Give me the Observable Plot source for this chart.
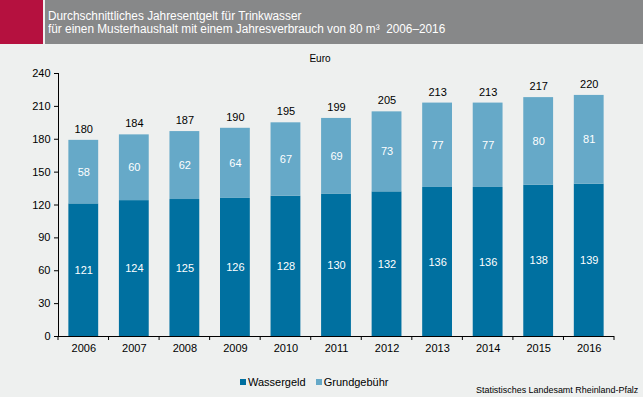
<!DOCTYPE html>
<html><head><meta charset="utf-8">
<script src="https://cdn.jsdelivr.net/npm/d3@7"></script>
<script src="https://cdn.jsdelivr.net/npm/@observablehq/plot@0.6"></script>
<style>
html,body{margin:0;padding:0;background:#eef0ef;}
#wrap{position:relative;width:643px;height:397px;overflow:hidden;background:#eef0ef;font-family:"Liberation Sans",Arial,sans-serif;}
#red{position:absolute;left:0;top:0;width:43px;height:44px;background:#b5113f;}
#gray{position:absolute;left:45px;top:0;width:598px;height:44px;background:#878889;}
#title{position:absolute;left:48px;top:10px;color:#fff;font-family:"Liberation Sans Narrow","Liberation Sans",sans-serif;font-size:12.5px;line-height:13px;white-space:nowrap;transform:scaleX(0.945);transform-origin:0 0;}
#chart{position:absolute;left:0;top:44px;}
#unit{position:absolute;left:300px;top:53px;width:40px;text-align:center;font-size:10px;color:#000;}
#legend{position:absolute;left:240px;top:376px;font-size:11px;color:#000;display:flex;gap:10px;}
#legend span.sw{display:inline-block;width:6px;height:6px;margin-right:2px;vertical-align:1px;}
#source{position:absolute;left:476px;top:384px;font-size:9.5px;color:#000;white-space:nowrap;transform:scaleX(0.94);transform-origin:0 0;}
</style></head>
<body>
<div id="wrap">
<div id="red"></div><div id="gray"></div>
<div id="title">Durchschnittliches Jahresentgelt für Trinkwasser<br>für einen Musterhaushalt mit einem Jahresverbrauch von 80 m³&nbsp; 2006–2016</div>
<div id="chart"></div>
<div id="unit">Euro</div>
<div id="legend"></div>
<div id="source">Statistisches Landesamt Rheinland-Pfalz</div>
</div>
<script>
const years = ["2006","2007","2008","2009","2010","2011","2012","2013","2014","2015","2016"];
const wassergeld = [121,124,125,126,128,130,132,136,136,138,139];
const grundgebuehr = [58,60,62,64,67,69,73,77,77,80,81];
const totals = [180,184,187,190,195,199,205,213,213,217,220];
const series = ["Wassergeld","Grundgebühr"];
const colors = ["#0070a0","#66a9c8"];
const yTicks = [0,30,60,90,120,150,180,210,240];

const rows = [];
years.forEach((y,i)=>{
  rows.push({year:y, type:series[0], value:wassergeld[i]});
  rows.push({year:y, type:series[1], value:grundgebuehr[i]});
});
const tot = years.map((y,i)=>({year:y, value:wassergeld[i]+grundgebuehr[i], label:totals[i]}));

const chart = Plot.plot({
  width:643, height:353,
  marginLeft:58, marginRight:29, marginTop:29, marginBottom:61,
  style:{background:"transparent", fontFamily:"'Liberation Sans', Arial, sans-serif", fontSize:"11px", color:"#000"},
  x:{domain:years, paddingInner:0.41, paddingOuter:0.205, round:false, label:null},
  y:{domain:[0,240], ticks:yTicks, label:null},
  color:{domain:series, range:colors},
  marks:[
    Plot.barY(rows, {x:"year", y:"value", fill:"type"}),
    Plot.text(rows, Plot.stackY({x:"year", y:"value", text:"value", fill:"white", fontSize:11})),
    Plot.text(tot, {x:"year", y:"value", text:"label", dy:-11, fill:"black", fontSize:11}),
    Plot.ruleY([0], {stroke:"black"}),
    Plot.frame({anchor:"left", stroke:"black"}),
    Plot.axisY({ticks:yTicks, tickSize:4, tickPadding:4, fontSize:11, label:null}),
    Plot.axisX({tickSize:0, tickPadding:8, fontSize:11, fontWeight:"normal", label:null})
  ]
});
document.getElementById("chart").appendChild(chart);

// boundary ticks on x axis from the band scale
const xs = chart.scale("x");
const step = xs.step, bw = xs.bandwidth;
const ys = chart.scale("y");
const y0 = ys.apply(0);
const svg = d3.select(chart);
const bounds = years.map(v => xs.apply(v) - (step - bw)/2);
bounds.push(xs.apply(years[years.length-1]) + bw + (step-bw)/2);
svg.append("g").selectAll("line").data(bounds).join("line")
  .attr("x1", d=>d).attr("x2", d=>d).attr("y1", y0).attr("y2", y0+4)
  .attr("stroke","black");

// legend
const lg = document.getElementById("legend");
series.forEach((s,i)=>{
  const d = document.createElement("div");
  d.innerHTML = `<span class="sw" style="background:${colors[i]}"></span>${s}`;
  lg.appendChild(d);
});
</script>
</body></html>
